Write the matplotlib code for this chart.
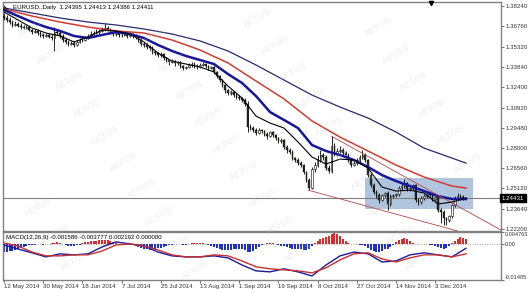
import numpy as np
import matplotlib
matplotlib.use("Agg")
import matplotlib.pyplot as plt
from matplotlib.patches import Rectangle

# ============================================================
# Data (EURUSD daily)
# ============================================================

opens = [
    1.3752, 1.3737, 1.3723, 1.3708, 1.3687, 1.3694, 1.3680, 1.3672, 1.3665, 1.3672,
    1.3651, 1.3636, 1.3644, 1.3629, 1.3615, 1.3608, 1.3615, 1.3600, 1.3593, 1.3636,
    1.3629, 1.3608, 1.3579, 1.3565, 1.3550, 1.3557, 1.3543, 1.3565, 1.3579, 1.3579,
    1.3593, 1.3608, 1.3622, 1.3629, 1.3636, 1.3644, 1.3651, 1.3665, 1.3651, 1.3636,
    1.3622, 1.3629, 1.3615, 1.3615, 1.3622, 1.3608, 1.3615, 1.3608, 1.3600, 1.3579,
    1.3550, 1.3543, 1.3529, 1.3521, 1.3493, 1.3485, 1.3471, 1.3478, 1.3450, 1.3435,
    1.3421, 1.3428, 1.3414, 1.3421, 1.3392, 1.3378, 1.3385, 1.3399, 1.3406, 1.3392,
    1.3385, 1.3399, 1.3406, 1.3392, 1.3378, 1.3385, 1.3349, 1.3320, 1.3291, 1.3255,
    1.3219, 1.3198, 1.3205, 1.3183, 1.3169, 1.3162, 1.3148, 1.3119, 1.2953, 1.2946,
    1.2932, 1.2910, 1.2932, 1.2925, 1.2903, 1.2889, 1.2917, 1.2896, 1.2875, 1.2853,
    1.2860, 1.2810, 1.2788, 1.2774, 1.2730, 1.2716, 1.2694, 1.2680, 1.2630, 1.2573,
    1.2516, 1.2650, 1.2680, 1.2716, 1.2752, 1.2738, 1.2660, 1.2640, 1.2820, 1.2760,
    1.2780, 1.2788, 1.2766, 1.2752, 1.2716, 1.2680, 1.2694, 1.2716, 1.2738, 1.2752,
    1.2716, 1.2608, 1.2536, 1.2486, 1.2465, 1.2429, 1.2465, 1.2479, 1.2400, 1.2457,
    1.2465, 1.2472, 1.2515, 1.2529, 1.2551, 1.2508, 1.2515, 1.2536, 1.2429, 1.2414,
    1.2443, 1.2457, 1.2472, 1.2465, 1.2436, 1.2450, 1.2357, 1.2342, 1.2299, 1.2285,
    1.2314, 1.2393, 1.2443, 1.2457, 1.2450, 1.2443,
]

highs = [
    1.3770, 1.3760, 1.3745, 1.3725, 1.3712, 1.3705, 1.3698, 1.3690, 1.3688, 1.3685,
    1.3662, 1.3660, 1.3655, 1.3645, 1.3632, 1.3630, 1.3628, 1.3620, 1.3670, 1.3660,
    1.3640, 1.3620, 1.3595, 1.3580, 1.3575, 1.3570, 1.3580, 1.3590, 1.3600, 1.3610,
    1.3625, 1.3640, 1.3645, 1.3655, 1.3660, 1.3670, 1.3700, 1.3680, 1.3665, 1.3645,
    1.3645, 1.3640, 1.3630, 1.3640, 1.3635, 1.3630, 1.3630, 1.3625, 1.3610, 1.3590,
    1.3565, 1.3555, 1.3545, 1.3535, 1.3505, 1.3495, 1.3495, 1.3485, 1.3460, 1.3445,
    1.3440, 1.3435, 1.3430, 1.3430, 1.3400, 1.3395, 1.3415, 1.3420, 1.3420, 1.3405,
    1.3410, 1.3420, 1.3415, 1.3400, 1.3395, 1.3395, 1.3355, 1.3330, 1.3300, 1.3265,
    1.3230, 1.3220, 1.3215, 1.3195, 1.3180, 1.3170, 1.3160, 1.3140, 1.2975, 1.2960,
    1.2945, 1.2945, 1.2940, 1.2935, 1.2915, 1.2925, 1.2925, 1.2905, 1.2885, 1.2875,
    1.2870, 1.2825, 1.2800, 1.2785, 1.2740, 1.2730, 1.2710, 1.2690, 1.2640, 1.2590,
    1.2665, 1.2700, 1.2750, 1.2790, 1.2770, 1.2750, 1.2680, 1.2887, 1.2840, 1.2800,
    1.2815, 1.2800, 1.2780, 1.2765, 1.2725, 1.2710, 1.2730, 1.2750, 1.2790, 1.2765,
    1.2725, 1.2620, 1.2550, 1.2500, 1.2480, 1.2475, 1.2485, 1.2490, 1.2470, 1.2475,
    1.2480, 1.2530, 1.2560, 1.2577, 1.2560, 1.2525, 1.2545, 1.2545, 1.2440, 1.2455,
    1.2470, 1.2485, 1.2480, 1.2475, 1.2460, 1.2455, 1.2370, 1.2355, 1.2310, 1.2320,
    1.2400, 1.2455, 1.2480, 1.2475, 1.2465, 1.2450,
]

lows = [
    1.3725, 1.3710, 1.3695, 1.3675, 1.3680, 1.3670, 1.3660, 1.3655, 1.3655, 1.3640,
    1.3625, 1.3628, 1.3615, 1.3600, 1.3595, 1.3598, 1.3590, 1.3580, 1.3503, 1.3615,
    1.3595, 1.3565, 1.3550, 1.3535, 1.3540, 1.3530, 1.3535, 1.3555, 1.3565, 1.3570,
    1.3585, 1.3600, 1.3610, 1.3620, 1.3625, 1.3635, 1.3645, 1.3640, 1.3625, 1.3610,
    1.3610, 1.3600, 1.3600, 1.3605, 1.3595, 1.3598, 1.3595, 1.3585, 1.3565, 1.3535,
    1.3530, 1.3515, 1.3505, 1.3480, 1.3470, 1.3455, 1.3460, 1.3435, 1.3420, 1.3400,
    1.3410, 1.3395, 1.3400, 1.3378, 1.3365, 1.3368, 1.3375, 1.3385, 1.3375, 1.3370,
    1.3375, 1.3390, 1.3378, 1.3365, 1.3368, 1.3335, 1.3305, 1.3275, 1.3240, 1.3200,
    1.3185, 1.3185, 1.3170, 1.3155, 1.3150, 1.3135, 1.3105, 1.2920, 1.2930, 1.2915,
    1.2895, 1.2900, 1.2910, 1.2890, 1.2870, 1.2880, 1.2880, 1.2860, 1.2835, 1.2835,
    1.2795, 1.2770, 1.2760, 1.2715, 1.2700, 1.2680, 1.2665, 1.2615, 1.2560, 1.2500,
    1.2505, 1.2630, 1.2665, 1.2700, 1.2715, 1.2645, 1.2625, 1.2625, 1.2745, 1.2745,
    1.2765, 1.2750, 1.2735, 1.2700, 1.2665, 1.2670, 1.2680, 1.2700, 1.2725, 1.2700,
    1.2595, 1.2520, 1.2470, 1.2445, 1.2410, 1.2420, 1.2450, 1.2356, 1.2385, 1.2440,
    1.2450, 1.2460, 1.2500, 1.2515, 1.2495, 1.2495, 1.2500, 1.2415, 1.2395, 1.2400,
    1.2430, 1.2445, 1.2450, 1.2420, 1.2425, 1.2345, 1.2260, 1.2247, 1.2247, 1.2270,
    1.2300, 1.2380, 1.2430, 1.2430, 1.2430, 1.2435,
]

closes = [
    1.3737, 1.3723, 1.3708, 1.3687, 1.3694, 1.3680, 1.3672, 1.3665, 1.3672, 1.3651,
    1.3636, 1.3644, 1.3629, 1.3615, 1.3608, 1.3615, 1.3600, 1.3593, 1.3636, 1.3629,
    1.3608, 1.3579, 1.3565, 1.3550, 1.3557, 1.3543, 1.3565, 1.3579, 1.3579, 1.3593,
    1.3608, 1.3622, 1.3629, 1.3636, 1.3644, 1.3651, 1.3665, 1.3651, 1.3636, 1.3622,
    1.3629, 1.3615, 1.3615, 1.3622, 1.3608, 1.3615, 1.3608, 1.3600, 1.3579, 1.3550,
    1.3543, 1.3529, 1.3521, 1.3493, 1.3485, 1.3471, 1.3478, 1.3450, 1.3435, 1.3421,
    1.3428, 1.3414, 1.3421, 1.3392, 1.3378, 1.3385, 1.3399, 1.3406, 1.3392, 1.3385,
    1.3399, 1.3406, 1.3392, 1.3378, 1.3385, 1.3349, 1.3320, 1.3291, 1.3255, 1.3219,
    1.3198, 1.3205, 1.3183, 1.3169, 1.3162, 1.3148, 1.3119, 1.2953, 1.2946, 1.2932,
    1.2910, 1.2932, 1.2925, 1.2903, 1.2889, 1.2917, 1.2896, 1.2875, 1.2853, 1.2860,
    1.2810, 1.2788, 1.2774, 1.2730, 1.2716, 1.2694, 1.2680, 1.2630, 1.2573, 1.2516,
    1.2650, 1.2680, 1.2716, 1.2752, 1.2738, 1.2660, 1.2640, 1.2820, 1.2760, 1.2780,
    1.2788, 1.2766, 1.2752, 1.2716, 1.2680, 1.2694, 1.2716, 1.2738, 1.2752, 1.2716,
    1.2608, 1.2536, 1.2486, 1.2465, 1.2429, 1.2465, 1.2479, 1.2400, 1.2457, 1.2465,
    1.2472, 1.2515, 1.2529, 1.2551, 1.2508, 1.2515, 1.2536, 1.2429, 1.2414, 1.2443,
    1.2457, 1.2472, 1.2465, 1.2436, 1.2450, 1.2357, 1.2342, 1.2299, 1.2285, 1.2314,
    1.2393, 1.2443, 1.2457, 1.2450, 1.2443, 1.2441,
]

# moving averages, sampled every 5 bars (fast) and every 10 bars (slow)
ma_fast_idx = list(range(0, 166, 5))
ma_slow_idx = list(range(0, 161, 10)) + [165]

ma_black = [
    1.3780, 1.3723, 1.3665, 1.3629, 1.3608, 1.3565, 1.3600, 1.3651, 1.3644, 1.3622,
    1.3565, 1.3485, 1.3428, 1.3406, 1.3385, 1.3349, 1.3248, 1.3162, 1.3032, 1.2982,
    1.2946, 1.2846, 1.2738, 1.2687, 1.2723, 1.2716, 1.2659, 1.2522, 1.2493, 1.2500,
    1.2479, 1.2400, 1.2414, 1.2443,
]
ma_blue = [
    1.3795, 1.3751, 1.3708, 1.3672, 1.3644, 1.3608, 1.3593, 1.3615, 1.3636, 1.3622,
    1.3593, 1.3543, 1.3500, 1.3464, 1.3435, 1.3406, 1.3334, 1.3270, 1.3176, 1.3061,
    1.3004, 1.2946, 1.2824, 1.2781, 1.2752, 1.2716, 1.2666, 1.2608, 1.2565, 1.2529,
    1.2493, 1.2457, 1.2436, 1.2436,
]
ma_red = [
    1.3802, 1.3751, 1.3708, 1.3672, 1.3644, 1.3629, 1.3579, 1.3507, 1.3414, 1.3284,
    1.3155, 1.2997, 1.2881, 1.2781, 1.2680, 1.2594, 1.2529, 1.2515,
]
ma_navy = [
    1.3809, 1.3773, 1.3737, 1.3708, 1.3687, 1.3658, 1.3622, 1.3572, 1.3500, 1.3399,
    1.3291, 1.3183, 1.3097, 1.3018, 1.2917, 1.2802, 1.2730, 1.2694,
]

# MACD(12,26,9)
macd_main = [
    -0.0003, -0.0019, -0.0034, -0.0050, -0.0038, -0.0042, -0.0038, -0.0011, 0.0009, 0.0001,
    -0.0007, -0.0031, -0.0046, -0.0050, -0.0050, -0.0046, -0.0054, -0.0082, -0.0105, -0.0109,
    -0.0097, -0.0109, -0.0125, -0.0082, -0.0046, -0.0031, -0.0038, -0.0070, -0.0066, -0.0042,
    -0.0034, -0.0042, -0.0050, -0.0016,
]
macd_signal = [
    0.0005, -0.0007, -0.0031, -0.0046, -0.0046, -0.0042, -0.0042, -0.0027, -0.0003, 0.0001,
    -0.0007, -0.0023, -0.0042, -0.0050, -0.0050, -0.0042, -0.0046, -0.0066, -0.0089, -0.0097,
    -0.0101, -0.0105, -0.0113, -0.0093, -0.0062, -0.0038, -0.0034, -0.0058, -0.0070, -0.0054,
    -0.0042, -0.0042, -0.0050, -0.0038,
]
macd_hist = [
    -0.0031, -0.0031, -0.0027, -0.0027, -0.0024, -0.0020, -0.0016, -0.0012, -0.0008, -0.0004,
    -0.0004, -0.0004, 0.0, 0.0, -0.0004, 0.0, 0.0, 0.0004, 0.0004, 0.0008,
    0.0004, 0.0, -0.0004, -0.0008, -0.0008, -0.0008, -0.0004, -0.0004, 0.0004, 0.0008,
    0.0008, 0.0012, 0.0012, 0.0012, 0.0016, 0.0016, 0.0016, 0.0016, 0.0012, 0.0008,
    0.0004, 0.0, 0.0, 0.0, 0.0, -0.0004, -0.0004, -0.0008, -0.0012, -0.0016,
    -0.0020, -0.0020, -0.0024, -0.0020, -0.0020, -0.0016, -0.0016, -0.0012, -0.0008, -0.0004,
    -0.0004, 0.0, 0.0, 0.0, -0.0004, -0.0004, 0.0, 0.0004, 0.0004, 0.0004,
    0.0004, 0.0004, 0.0, -0.0004, -0.0008, -0.0012, -0.0016, -0.0020, -0.0024, -0.0024,
    -0.0024, -0.0024, -0.0020, -0.0020, -0.0020, -0.0020, -0.0024, -0.0031, -0.0031, -0.0027,
    -0.0020, -0.0012, -0.0004, 0.0, 0.0004, 0.0004, 0.0004, 0.0, -0.0004, -0.0008,
    -0.0008, -0.0012, -0.0016, -0.0020, -0.0020, -0.0020, -0.0020, -0.0024, -0.0024, -0.0020,
    -0.0008, 0.0004, 0.0012, 0.0020, 0.0024, 0.0027, 0.0031, 0.0039, 0.0043, 0.0039,
    0.0031, 0.0020, 0.0012, 0.0004, 0.0, 0.0, 0.0, -0.0004, -0.0004, -0.0008,
    -0.0016, -0.0024, -0.0027, -0.0031, -0.0031, -0.0027, -0.0020, -0.0020, -0.0012, -0.0004,
    0.0008, 0.0016, 0.0020, 0.0024, 0.0020, 0.0012, 0.0004, 0.0, 0.0, 0.0,
    0.0, 0.0, -0.0004, -0.0004, -0.0008, -0.0012, -0.0016, -0.0020, -0.0016, -0.0008,
    0.0004, 0.0012, 0.0020, 0.0027, 0.0024, 0.0022,
]

# drawn objects: trend lines and the zone box (bar index, price)
trend_lower = ([108.6, 162.0], [1.2500, 1.2206])
trend_upper = ([117.0, 177.5], [1.2887, 1.2213])
zone_bars = [128.9, 167.5]
zone_prices = [1.2364, 1.2587]

bid_price = 1.24431

price_ticks = [1.38240, 1.36760, 1.35320, 1.33840, 1.32400, 1.30920, 1.29480,
               1.28000, 1.26560, 1.25120, 1.23640, 1.22200]
macd_ticks = [0.004763, 0.0, -0.01405]
macd_tick_labels = ["0.004763", "0.00", "-0.01405"]

date_idx = list(range(0, 155, 14))
date_labels = ["12 May 2014", "30 May 2014", "18 Jun 2014", "7 Jul 2014",
               "25 Jul 2014", "13 Aug 2014", "1 Sep 2014", "19 Sep 2014",
               "8 Oct 2014", "27 Oct 2014", "14 Nov 2014", "3 Dec 2014"]

header = "EURUSD,,Daily  1.24395 1.24413 1.24386 1.24411"
macd_header = "MACD(12,26,9) -0.001586 -0.003777 0.002192 0.000000"

# ============================================================
# Figure layout (pixel based, 530 x 292)
# ============================================================

W, H = 530, 292
FS = 4.4
plt.rcParams['font.family'] = ["Liberation Sans", 'DejaVu Sans']

fig = plt.figure(figsize=(W / 100, H / 100), dpi=100)
fig.patch.set_facecolor("white")

left, right = 3, 501
ax = fig.add_axes([left / W, 1 - 231 / H, (right - left) / W, 229 / H])
axm = fig.add_axes([left / W, 1 - 280 / H, (right - left) / W, 48 / H])

x_min, x_max = -0.36, 177.5
for a in (ax, axm):
    a.set_xlim(x_min, x_max)
    a.set_facecolor("white")
    for s in a.spines.values():
        s.set_color("#808080")
        s.set_linewidth(1.0)

# ============================================================
# Watermark
# ============================================================

for m in range(-8, 10):
    for n in range(-4, 7):
        wx = 378 + 18 * m - 103 * n
        wy = 27 + 27 * m + 18 * n
        if 22 < wx < 480 and 16 < wy < 272:
            fig.text(wx / W, 1 - wy / H, "AETOS", fontsize=6.5, weight="bold",
                     color="#c4c4c4", alpha=0.22, rotation=30,
                     ha="center", va="center")

# ============================================================
# Main pane
# ============================================================

idx = np.arange(len(closes))
o = np.array(opens)
c = np.array(closes)
hi = np.array(highs)
lo = np.array(lows)

ax.add_patch(Rectangle((zone_bars[0], zone_prices[0]),
                       zone_bars[1] - zone_bars[0],
                       zone_prices[1] - zone_prices[0],
                       facecolor="#b0c4de", edgecolor="none", zorder=1))

ax.axhline(bid_price, color="#7f7f7f", lw=0.8, zorder=2)

ax.vlines(idx, lo, hi, color="black", lw=0.6, zorder=3)
bull = c >= o
body_lo = np.minimum(o, c)
body_h = np.maximum(np.abs(c - o), 0.00015)
ax.bar(idx[~bull], body_h[~bull], bottom=body_lo[~bull], width=0.6,
       color="#2b3a2b", edgecolor="black", linewidth=0.3, zorder=4)
ax.bar(idx[bull], body_h[bull], bottom=body_lo[bull], width=0.6,
       color="white", edgecolor="black", linewidth=0.4, zorder=4)

ax.plot(ma_slow_idx, ma_navy, color="#2a2a6e", lw=0.9, zorder=5)
ax.plot(ma_slow_idx, ma_red, color="#d23c32", lw=1.1, zorder=5)
ax.plot(ma_fast_idx, ma_blue, color="#16169a", lw=1.8, zorder=6)
ax.plot(ma_fast_idx, ma_black, color="black", lw=0.8, zorder=7)

ax.plot(trend_lower[0], trend_lower[1], color="#b04848", lw=0.6, zorder=6)
ax.plot(trend_upper[0], trend_upper[1], color="#b04848", lw=0.6, zorder=6)

ax.set_ylim(1.2206, 1.3852)
ax.yaxis.tick_right()
ax.set_yticks(price_ticks)
ax.set_yticklabels([f"{p:.5f}" for p in price_ticks])
ax.tick_params(axis="y", direction="out", length=2, width=0.5,
               colors="#333333", labelsize=FS, pad=1.2)
ax.set_xticks([])

ax.text(1.002, bid_price, f"{bid_price:.5f}", transform=ax.get_yaxis_transform(),
        ha="left", va="center", fontsize=FS, color="white", zorder=10,
        bbox=dict(boxstyle="square,pad=0.25", facecolor="black", edgecolor="black"),
        clip_on=False)

# shift marker on top border
ax.plot([152.5], [1.3848], marker="v", color="black", markersize=3,
        clip_on=False, zorder=10)

fig.text(13 / W, 1 - 8 / H, header, fontsize=FS, color="black", va="center")
fig.text(4 / W, 1 - 8 / H, "\u25e3", fontsize=4, color="#303030", va="center")

# ============================================================
# MACD pane
# ============================================================

hv = np.array(macd_hist)
h_idx = np.arange(len(hv))
axm.axhline(0, color="#a0a0a0", lw=0.7, ls=(0, (1, 1.5)), zorder=1)
axm.bar(h_idx[hv > 0], hv[hv > 0], width=0.7, color="#e02828", zorder=2)
axm.bar(h_idx[hv < 0], hv[hv < 0], width=0.7, color="#2030d0", zorder=2)
axm.plot(ma_fast_idx, macd_main, color="#1a1a9a", lw=1.0, zorder=3)
axm.plot(ma_fast_idx, macd_signal, color="#c83030", lw=1.0, zorder=3)

axm.set_ylim(-0.01410, 0.00480)
axm.yaxis.tick_right()
axm.set_yticks(macd_ticks)
axm.set_yticklabels(macd_tick_labels)
axm.tick_params(axis="y", direction="out", length=2, width=0.5,
                colors="#333333", labelsize=4.0, pad=0.8)
ylabels = axm.get_yticklabels()
ylabels[0].set_va("top")
ylabels[2].set_va("bottom")

axm.set_xticks(date_idx)
axm.set_xticklabels(date_labels)
for lab in axm.get_xticklabels():
    lab.set_ha("left")
axm.tick_params(axis="x", direction="out", length=2, width=0.5,
                colors="#333333", labelsize=FS, pad=1.0)

fig.text(6 / W, 1 - 237 / H, macd_header, fontsize=FS, color="black", va="center")

fig.savefig("out.png", dpi=100)
